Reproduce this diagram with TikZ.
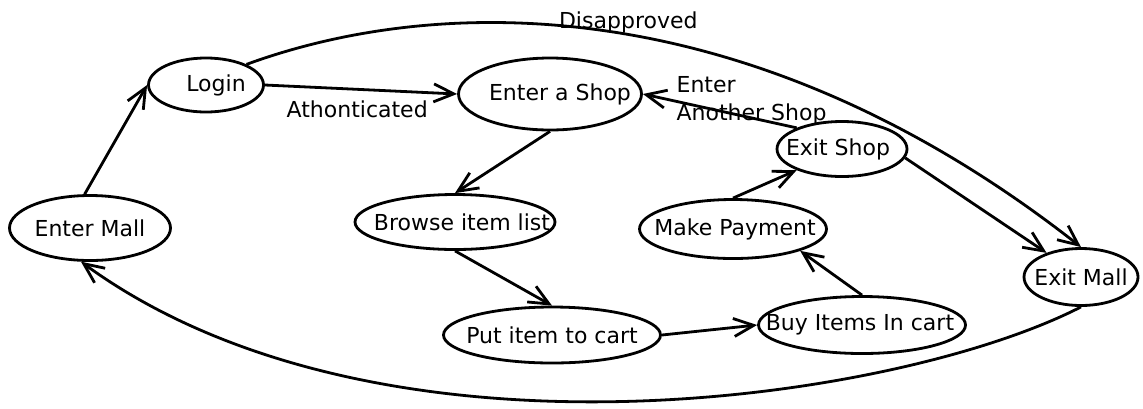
\documentclass[tikz,border=0pt]{standalone}
\usepackage{fontspec}
\setmainfont{DejaVu Sans}
\usetikzlibrary{shapes.geometric,arrows.meta}

\tikzset{
  state/.style={ellipse, draw, line width=1.4pt, inner sep=0pt},
  txt/.style={font=\fontsize{11}{14}\selectfont, inner sep=0pt},
  flow/.style={-{Straight Barb[length=10pt,width=9pt]}, line width=1.4pt},
}

\begin{document}
\begin{tikzpicture}[x=0.5pt,y=-0.5pt]
  \path[fill=white,use as bounding box] (0,0) rectangle (1143,408);

  % states
  \node[state, minimum width=80.5pt, minimum height=32.5pt,
        label={[txt]center:Enter Mall}] (mall) at (90,228) {};
  \node[state, minimum width=57.5pt, minimum height=27pt,
        label={[txt,xshift=5pt]center:Login}] (login) at (206,85) {};
  \node[state, minimum width=91.5pt, minimum height=36pt,
        label={[txt,xshift=5pt]center:Enter a Shop}] (shop) at (550,94) {};
  \node[state, minimum width=100pt, minimum height=27.5pt,
        label={[txt,xshift=3.5pt]center:Browse item list}] (browse) at (455,222) {};
  \node[state, minimum width=108.5pt, minimum height=28pt,
        label={[txt]center:Put item to cart}] (put) at (552,335) {};
  \node[state, minimum width=103.5pt, minimum height=28.5pt,
        label={[txt,xshift=-1pt]center:Buy Items In cart}] (buy) at (862,325) {};
  \node[state, minimum width=93.5pt, minimum height=29.5pt,
        label={[txt,xshift=1pt]center:Make Payment}] (pay) at (733,229) {};
  \node[state, minimum width=65pt, minimum height=27.5pt,
        label={[txt,xshift=-2pt]center:Exit Shop}] (exitshop) at (842,149) {};
  \node[state, minimum width=57pt, minimum height=28.5pt,
        label={[txt]center:Exit Mall}] (exitmall) at (1081,277) {};

  % transitions
  \draw[flow] (mall.99) -- (login.west);
  \draw[flow] (login.east) -- (shop.west)
    node[txt, pos=0.48, anchor=north, yshift=-5pt] (auth) {Athonticated};
  \draw[flow] (login.27) .. controls (450,-10) and (760,-5) .. (exitmall.north)
    node[txt, pos=0.51, anchor=south] (disap) {Disapproved};
  \draw[flow] (shop.south) -- (browse.north);
  \draw[flow] (browse.south) -- (put.north);
  \draw[flow] (put.east) -- (buy.west);
  \draw[flow] (buy.north) -- (pay.-18);
  \draw[flow] (pay.north) -- (exitshop.205);
  \draw[flow] (exitshop.155) -- (shop.east)
    node[txt, pos=0.79, anchor=west, align=left] (another) {Enter\\Another Shop};
  \draw[flow] (exitshop.-8) -- (exitmall.145);
  \draw[flow] (exitmall.south) .. controls (900,400) and (380,480) .. (mall.255);
\end{tikzpicture}
\end{document}
